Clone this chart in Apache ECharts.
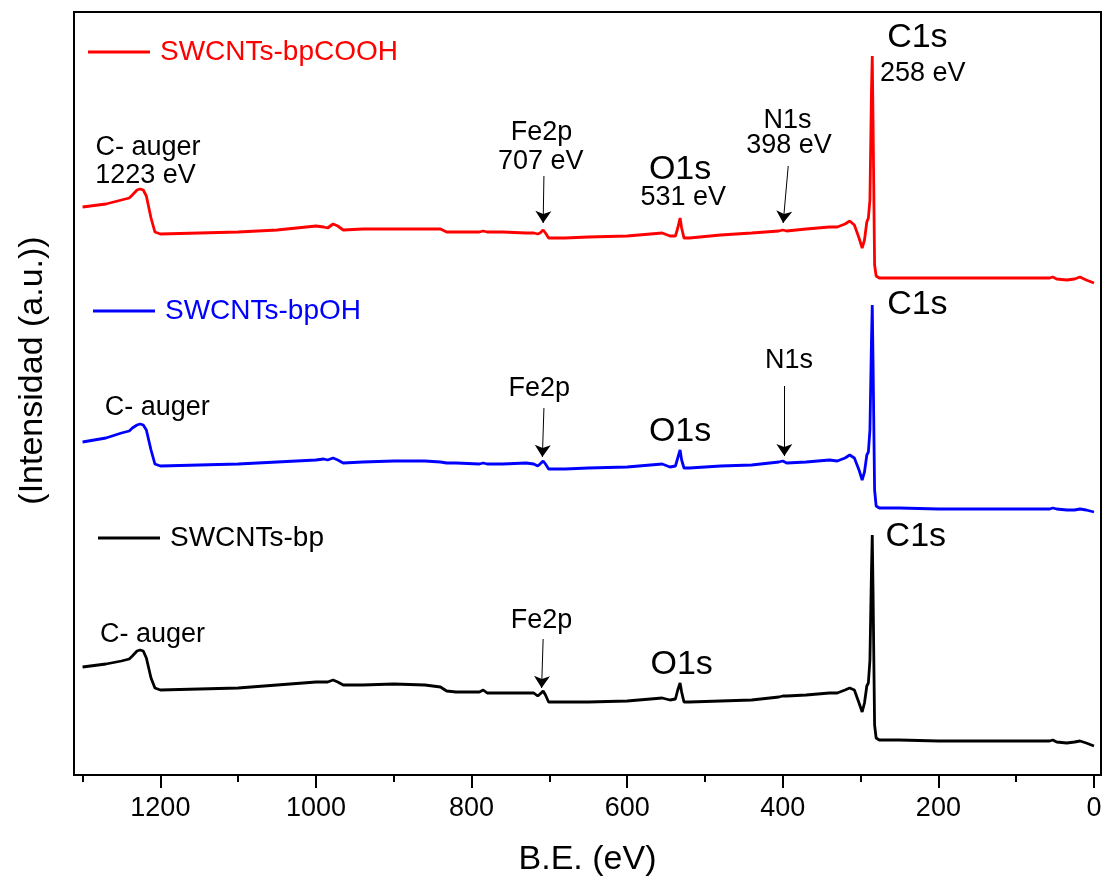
<!DOCTYPE html>
<html>
<head>
<meta charset="UTF-8">
<title>XPS SWCNTs</title>
<script src="https://cdn.jsdelivr.net/npm/echarts@6/dist/echarts.min.js"></script>
<style>
  html, body { margin: 0; padding: 0; background: #fff; }
  #chart { width: 1102px; height: 882px; }
</style>
</head>
<body>
<div id="chart"></div>
<script>
// binding energy (eV), shared by the three spectra
var energy = [1300, 1270, 1250, 1240, 1236, 1230, 1226, 1222, 1218, 1212, 1207, 1200, 1150, 1100, 1050, 1000, 990, 985, 978, 972, 965, 940, 900, 860, 840, 832, 820, 790, 785, 780, 760, 730, 720, 715, 712, 708, 705, 701, 680, 650, 600, 570, 555, 545, 538, 535, 532, 530, 527, 520, 480, 440, 405, 400, 398, 395, 370, 340, 330, 320, 314, 308, 302, 298, 295, 292, 290, 288, 286, 285, 284, 282, 280, 276, 250, 200, 150, 100, 70, 57, 53, 48, 35, 25, 18, 10, 0];

// intensity (a.u., stacked with offsets as in the figure)
var cooh = [568, 571, 575, 577, 580, 585, 586, 585, 579, 557, 543, 541, 542, 543, 545, 549, 548, 547, 551, 549, 545, 546, 546, 546, 546, 543, 543, 543, 544, 543, 543, 542, 542, 541, 542, 545, 542, 537, 537, 538, 539, 541, 542, 539, 539, 547, 557, 547, 537, 537, 540, 542, 544, 545, 546, 544, 546, 548, 548, 551, 554, 550, 537, 527, 535, 553, 557, 575, 685, 719, 655, 510, 499, 497, 497, 497, 497, 497, 497, 497, 498, 496, 495, 496, 498, 495, 492];
var oh = [333, 337, 342, 344, 347, 350, 351, 350, 345, 325, 311, 309, 310, 311, 313, 315, 316, 315, 317, 315, 312, 313, 314, 314, 313, 312, 312, 311, 312, 311, 311, 312, 311, 309, 311, 314, 311, 306, 306, 307, 308, 310, 311, 308, 309, 317, 325, 315, 307, 307, 309, 310, 313, 314, 315, 312, 313, 315, 314, 317, 320, 317, 305, 295, 303, 320, 323, 345, 435, 470, 415, 285, 269, 267, 267, 266, 266, 266, 266, 266, 267, 266, 265, 265, 266, 265, 263];
var bp = [108, 111, 114, 116, 119, 124, 125, 124, 117, 97, 87, 85, 86, 87, 90, 93, 93, 93, 95, 93, 90, 90, 91, 90, 88, 84, 83, 83, 85, 82, 82, 82, 82, 79, 81, 84, 80, 73, 73, 73, 74, 76, 77, 75, 76, 85, 92, 83, 73, 73, 74, 75, 78, 79, 79, 79, 80, 82, 82, 85, 87, 85, 72, 63, 72, 89, 92, 115, 205, 240, 185, 50, 37, 35, 35, 34, 34, 34, 34, 34, 35, 33, 32, 33, 34, 32, 29];

var majorTicks = [0, 200, 400, 600, 800, 1000, 1200];
var minorTicks = [100, 300, 500, 700, 900, 1100, 1300];

// peak labels: [eV, intensity, text, kind]
var notesCOOH = [
  [1216, 627, 'C- auger', 'small'],
  [1219, 599, '1223 eV', 'small'],
  [710, 642, 'Fe2p', 'small'],
  [711, 613, '707 eV', 'small'],
  [532, 605, 'O1s', 'big'],
  [528, 577, '531 eV', 'small'],
  [394, 654, 'N1s', 'small'],
  [392, 629, '398 eV', 'small'],
  [227, 737, 'C1s', 'big'],
  [220, 701, '258 eV', 'small']
];
var notesOH = [
  [1204, 367, 'C- auger', 'small'],
  [713, 386, 'Fe2p', 'small'],
  [532, 343, 'O1s', 'big'],
  [392, 414, 'N1s', 'small'],
  [227, 470, 'C1s', 'big']
];
var notesBP = [
  [1210, 140, 'C- auger', 'small'],
  [710, 154, 'Fe2p', 'small'],
  [530, 110, 'O1s', 'big'],
  [229, 238, 'C1s', 'big']
];
// arrows: [eV from, intensity from, eV to, intensity to]
var arrowsCOOH = [[707, 599, 708, 552], [393, 609, 399.5, 552]];
var arrowsOH = [[707, 367, 709, 318], [398, 389, 398, 319]];
var arrowsBP = [[708, 136, 710, 87]];

var FONT = 'Liberation Sans, Arial, sans-serif';

function makeSeries(name, color, vals, notes, arrows) {
  return {
    name: name,
    type: 'line',
    data: energy.map(function (e, i) { return [e, vals[i]]; }),
    symbol: 'none',
    showSymbol: false,
    lineStyle: { color: color, width: 2.8 },
    itemStyle: { color: color },
    markPoint: {
      symbol: 'circle',
      symbolSize: 0,
      silent: true,
      itemStyle: { color: 'transparent' },
      data: notes.map(function (n) {
        return {
          coord: [n[0], n[1]],
          label: {
            show: true,
            position: 'inside',
            formatter: n[2],
            color: '#000',
            fontFamily: FONT,
            fontSize: n[3] === 'big' ? 34 : 27
          }
        };
      })
    },
    markLine: {
      silent: true,
      symbol: ['none', 'arrow'],
      symbolSize: 12,
      lineStyle: { color: '#000', width: 1, type: 'solid' },
      label: { show: false },
      data: arrows.map(function (a) {
        return [{ coord: [a[0], a[1]] }, { coord: [a[2], a[3]] }];
      })
    }
  };
}

function makeLegend(name, color, left, top) {
  return {
    data: [{ name: name, textStyle: { color: color } }],
    left: left,
    top: top,
    padding: 0,
    icon: 'rect',
    itemWidth: 62,
    itemHeight: 3,
    selectedMode: false,
    textStyle: { fontSize: 28, fontFamily: FONT, padding: [0, 0, 0, 5] }
  };
}

var chart = echarts.init(document.getElementById('chart'), null, { renderer: 'canvas' });

chart.setOption({
  animation: false,
  backgroundColor: '#fff',
  textStyle: { fontFamily: FONT },
  grid: {
    left: 74, top: 12, width: 1027, height: 763,
    show: true, borderColor: '#000', borderWidth: 2,
    containLabel: false, outerBoundsMode: 'none'
  },
  legend: [
    makeLegend('SWCNTs-bpCOOH', '#ff0000', 88, 38),
    makeLegend('SWCNTs-bpOH', '#0000ff', 93, 297),
    makeLegend('SWCNTs-bp', '#000000', 98, 524)
  ],
  xAxis: [
    {
      type: 'value', inverse: true, min: -9, max: 1311, position: 'bottom',
      name: 'B.E. (eV)', nameLocation: 'middle', nameGap: 68,
      nameTextStyle: { fontSize: 34, color: '#000', fontFamily: FONT },
      axisLine: { show: true, lineStyle: { color: '#000', width: 2 } },
      axisTick: { show: true, customValues: majorTicks, length: 13, lineStyle: { color: '#000', width: 2 } },
      axisLabel: {
        customValues: majorTicks, fontSize: 27, color: '#000', margin: 20, fontFamily: FONT,
        formatter: function (v) { return String(v); }
      },
      splitLine: { show: false }
    },
    {
      type: 'value', inverse: true, min: -9, max: 1311, position: 'bottom',
      axisLine: { show: false },
      axisTick: { show: true, customValues: minorTicks, length: 7, lineStyle: { color: '#000', width: 2 } },
      axisLabel: { show: false },
      splitLine: { show: false }
    }
  ],
  yAxis: {
    type: 'value', min: 0, max: 763,
    name: '(Intensidad (a.u.))', nameLocation: 'middle', nameRotate: 90, nameGap: 24,
    nameTextStyle: { fontSize: 34, color: '#000', fontFamily: FONT, padding: [0, 0, 0, 46] },
    axisLine: { show: false },
    axisTick: { show: false },
    axisLabel: { show: false },
    splitLine: { show: false }
  },
  series: [
    makeSeries('SWCNTs-bpCOOH', '#ff0000', cooh, notesCOOH, arrowsCOOH),
    makeSeries('SWCNTs-bpOH', '#0000ff', oh, notesOH, arrowsOH),
    makeSeries('SWCNTs-bp', '#000000', bp, notesBP, arrowsBP)
  ]
});
</script>
</body>
</html>
